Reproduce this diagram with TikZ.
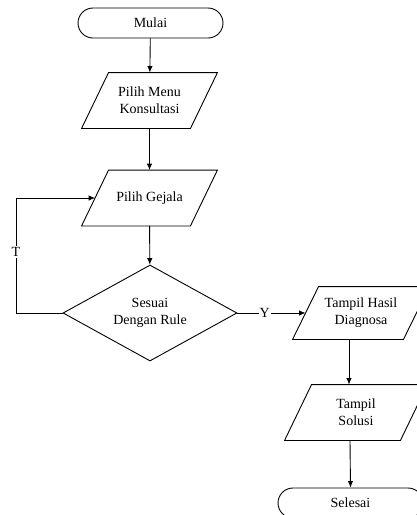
\documentclass[tikz,border=0pt]{standalone}
\usepackage{fontspec}
\setmainfont{Liberation Serif}
\usetikzlibrary{shapes.geometric,arrows.meta}
\newcommand\drawpara[2]{\draw[line width=0.9pt] ([xshift=#2]#1.north west) -- ([xshift=#2]#1.north east) -- ([xshift=-#2]#1.south east) -- ([xshift=-#2]#1.south west) -- cycle;}
\begin{document}
\begin{tikzpicture}[x=1pt,y=-1pt,
  base/.style={line width=0.9pt, font=\fontsize{14}{17}\selectfont, align=center, inner sep=0pt},
  term/.style={base, draw, rectangle, rounded corners=15pt, minimum width=145pt, minimum height=30pt},
  io/.style={base, rectangle, minimum height=55pt, minimum width=108pt},
  dec/.style={base, draw, diamond, aspect=1.8, minimum width=174pt, minimum height=96pt},
  arr/.style={line width=0.9pt, -{Latex[length=6.5pt,width=5.5pt]}},
  lbl/.style={fill=white, font=\fontsize{14}{17}\selectfont, inner sep=1pt}]
\useasboundingbox (0,0) rectangle (417,515);
\clip (0,0) rectangle (417,515);
\node[term] (mulai) at (150.5,23) {Mulai};
\node[io] (menu) at (149.5,100.5) {Pilih Menu\\Konsultasi};
\node[io] (gejala) at (149.5,198) {Pilih Gejala};
\node[dec] (rule) at (150,313) {Sesuai\\Dengan Rule};
\node[io, minimum height=52pt, minimum width=110pt] (hasil) at (361,313) {Tampil Hasil\\Diagnosa};
\node[io, minimum width=115pt] (solusi) at (356,412.5) {Tampil\\Solusi};
\node[term] (selesai) at (350.5,503) {Selesai};
\drawpara{menu}{13.5pt}
\drawpara{gejala}{13.5pt}
\drawpara{hasil}{13pt}
\drawpara{solusi}{13.5pt}
\coordinate (fb1) at (16,313);
\coordinate (fb2) at (16,198);
\draw[arr] (mulai) -- (menu);
\draw[arr] (menu) -- (gejala);
\draw[arr] (gejala) -- (rule);
\draw[arr] (rule.east) -- node[lbl, pos=0.4] {Y} (hasil.west);
\draw[arr] ([xshift=-12pt]hasil.south) -- ([xshift=-7pt]solusi.north);
\draw[arr] ([xshift=-6pt]solusi.south) -- (selesai.north);
\draw[arr] (rule.west) -- (fb1) -- node[lbl, pos=0.53] {T} (fb2) -- (gejala.west);
\end{tikzpicture}
\end{document}
